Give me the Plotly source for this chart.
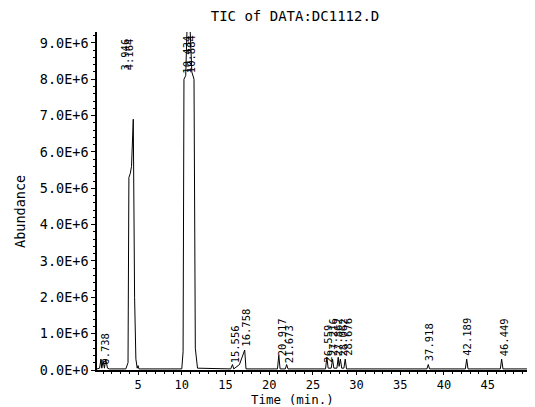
import plotly.graph_objects as go

# ---- data ----
# Chromatogram trace vertices (time in min, abundance)
time_min = [0.3, 0.6, 0.75, 0.85, 1.0, 1.15, 1.3, 1.5, 1.7, 3.6, 3.85, 3.95, 4.1, 4.25, 4.45, 4.6, 4.75, 4.9,
            5.0, 5.1, 5.25,
            10.0, 10.15, 10.25, 10.45, 10.6, 10.75, 10.95, 11.15, 11.4, 11.55, 11.8,
            15.6, 15.8, 15.95, 16.6, 17.2, 17.35, 20.95, 21.1, 21.25, 21.85, 22.0, 22.15,
            26.45, 26.6, 26.75, 27.1, 27.25, 27.4, 27.75, 27.9, 28.0, 28.15, 28.3, 28.55, 28.7, 28.85,
            38.05, 38.2, 38.35, 42.45, 42.6, 42.75, 46.45, 46.6, 46.75, 49.5]
abundance = [0.03e6, 0.05e6, 0.3e6, 0.05e6, 0.25e6, 0.05e6, 0.3e6, 0.05e6, 0.03e6,
             0.03e6, 0.2e6, 5.3e6, 5.4e6, 5.6e6, 6.9e6, 2.0e6, 0.3e6, 0.05e6, 0.12e6, 0.03e6, 0.03e6,
             0.03e6, 0.5e6, 8.0e6, 8.1e6, 9.4e6, 9.4e6, 9.4e6, 8.2e6, 8.0e6, 0.6e6, 0.05e6,
             0.03e6, 0.15e6, 0.03e6, 0.15e6, 0.55e6, 0.03e6, 0.03e6, 0.4e6, 0.03e6, 0.03e6, 0.15e6, 0.03e6,
             0.03e6, 0.35e6, 0.05e6, 0.05e6, 0.3e6, 0.05e6, 0.05e6, 0.35e6, 0.1e6, 0.3e6, 0.05e6, 0.05e6, 0.3e6, 0.03e6,
             0.03e6, 0.15e6, 0.03e6, 0.03e6, 0.3e6, 0.03e6, 0.03e6, 0.3e6, 0.03e6, 0.03e6]

# Peak retention-time labels
peak_labels = ["0.738", "3.946", "4.164", "10.434", "10.884", "15.556", "16.758", "20.917", "21.673",
               "26.559", "27.216", "27.862", "28.062", "28.676", "37.918", "42.189", "46.449"]
label_time = [1.25, 3.55, 4.0, 10.6, 11.0, 16.1, 17.4, 21.5, 22.3,
              26.7, 27.3, 27.9, 28.5, 29.0, 38.3, 42.6, 46.9]
label_base = [0.1e6, 8.2e6, 8.2e6, 8.1e6, 8.1e6, 0.13e6, 0.6e6, 0.33e6, 0.14e6,
              0.14e6, 0.33e6, 0.33e6, 0.33e6, 0.33e6, 0.19e6, 0.33e6, 0.33e6]

y_tickvals = [0, 1e6, 2e6, 3e6, 4e6, 5e6, 6e6, 7e6, 8e6, 9e6]
y_ticktext = ["0.0E+0", "1.0E+6", "2.0E+6", "3.0E+6", "4.0E+6", "5.0E+6", "6.0E+6", "7.0E+6", "8.0E+6", "9.0E+6"]
x_tickvals = [5, 10, 15, 20, 25, 30, 35, 40, 45]

# ---- layout (page has an 8px body margin, so figure is 8px smaller) ----
FONT = "DejaVu Sans Mono"
OFF = 8
W, H = 535 - OFF, 407 - OFF
L, R, T, B = 97 - OFF, 8, 32 - OFF, 407 - 370
PW, PH = W - L - R, H - T - B


def px(xp):  # page x pixel -> paper x
    return (xp - OFF - L) / PW


def py(yp):  # page y pixel -> paper y
    return 1 - (yp - OFF - T) / PH


fig = go.Figure()
fig.add_trace(go.Scatter(x=time_min, y=abundance, mode="lines",
                         line=dict(color="black", width=1), showlegend=False, hoverinfo="skip"))

for t, x, yb in zip(peak_labels, label_time, label_base):
    fig.add_annotation(x=x, y=yb, text=t, textangle=-90, showarrow=False,
                       xanchor="center", yanchor="bottom",
                       font=dict(family=FONT, size=10.5, color="black"))

fig.add_annotation(xref="paper", yref="paper", x=px(20), y=py(212), text="Abundance",
                   textangle=-90, showarrow=False, xanchor="center", yanchor="middle",
                   font=dict(family=FONT, size=13.5, color="black"))
fig.add_annotation(xref="paper", yref="paper", x=px(292), y=py(399), text="Time (min.)",
                   showarrow=False, xanchor="center", yanchor="middle",
                   font=dict(family=FONT, size=12.5, color="black"))

fig.update_layout(
    width=W, height=H,
    margin=dict(l=L, r=R, t=T, b=B, autoexpand=False),
    paper_bgcolor="white", plot_bgcolor="white",
    title=dict(text="TIC of DATA:DC1112.D", x=(295 - OFF) / W, xanchor="center", xref="container",
               y=1 - (16 - OFF) / H, yanchor="middle", yref="container",
               font=dict(family=FONT, size=14, color="black")),
    font=dict(family=FONT, size=13, color="black"),
)
fig.update_xaxes(range=[0.3, 49.5], showline=True, linecolor="black", linewidth=1.5,
                 ticks="outside", ticklen=3, tickcolor="black", tickvals=x_tickvals,
                 minor=dict(dtick=1, ticks="outside", ticklen=2, tickcolor="black"),
                 showgrid=False, zeroline=False, tickfont=dict(family=FONT, size=12), automargin=False)
fig.update_yaxes(range=[0, 9.3e6], showline=True, linecolor="black", linewidth=1.5,
                 ticks="outside", ticklen=4, tickcolor="black",
                 tickvals=y_tickvals, ticktext=y_ticktext,
                 minor=dict(dtick=2e5, ticks="outside", ticklen=2, tickcolor="black"),
                 showgrid=False, zeroline=False, tickfont=dict(family=FONT, size=13.5), automargin=False)

fig.write_html("out.html")
